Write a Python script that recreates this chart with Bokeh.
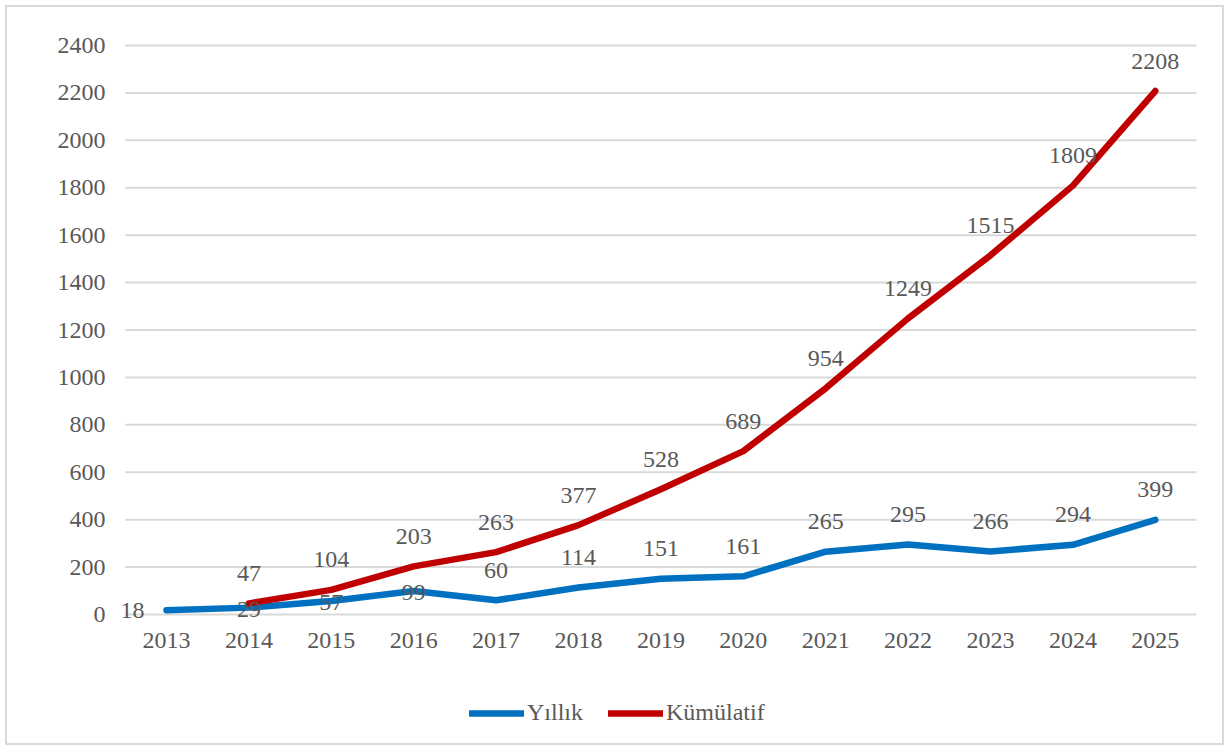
from bokeh.plotting import figure
from bokeh.models import (ColumnDataSource, Legend, LegendItem, Range1d, FixedTicker)
from bokeh.core.properties import value
from bokeh.embed import file_html
from bokeh.resources import INLINE

years = ["2013", "2014", "2015", "2016", "2017", "2018", "2019",
         "2020", "2021", "2022", "2023", "2024", "2025"]
yillik = [18, 29, 57, 99, 60, 114, 151, 161, 265, 295, 266, 294, 399]
kum_years = ["2014", "2015", "2016", "2017", "2018", "2019",
             "2020", "2021", "2022", "2023", "2024", "2025"]
kumulatif = [47, 104, 203, 263, 377, 528, 689, 954, 1249, 1515, 1809, 2208]
y_ticks = list(range(0, 2401, 200))

# label placement (style only)
blue_dx = [-34, 0, 0, 0] + [0] * 9
blue_dy = [0, 2, 2, 1] + [-30] * 9

FONT = "Liberation Serif"
TXT = "#595959"
BLUE = "#0070C0"
RED = "#C00000"
FS = "24px"

# layout geometry (pixels, in figure coordinates)
W, H = 1219, 740
F_LEFT, F_RIGHT, F_TOP, F_BOTTOM = 107, 1206, 3, 737
ZERO_Y, TOP_Y = 607, 38          # pixel rows of value 0 and of the top tick
CAT_W = 82.4                     # category width in pixels
FIRST_X = 159                    # pixel column of the first category

xi = {y: i for i, y in enumerate(years)}
bx = [xi[y] for y in years]
rx = [xi[y] for y in kum_years]

ppu = (ZERO_Y - TOP_Y) / y_ticks[-1]
y0 = -(F_BOTTOM - ZERO_Y) / ppu
y1 = y_ticks[-1] + (TOP_Y - F_TOP) / ppu
x0 = -(FIRST_X - F_LEFT) / CAT_W
x1 = x0 + (F_RIGHT - F_LEFT) / CAT_W

p = figure(width=W, height=H, x_range=Range1d(x0, x1), y_range=Range1d(y0, y1),
           output_backend="svg", toolbar_location=None,
           min_border_left=F_LEFT, min_border_right=W - F_RIGHT,
           min_border_top=F_TOP, min_border_bottom=H - F_BOTTOM)
p.styles = {"border": "2px solid #d9d9d9", "margin": "5px 0 0 5px"}
p.outline_line_color = None
p.background_fill_color = "white"
p.border_fill_color = "white"
p.xgrid.grid_line_color = None
p.ygrid.grid_line_color = None

# horizontal gridlines spanning the category band only
p.segment(x0=[-0.5] * len(y_ticks), x1=[len(years) - 0.5] * len(y_ticks),
          y0=y_ticks, y1=y_ticks, line_color="#d9d9d9", line_width=2)

b_src = ColumnDataSource(dict(x=bx, y=yillik, t=[str(v) for v in yillik],
                              dx=blue_dx, dy=blue_dy))
r_src = ColumnDataSource(dict(x=rx, y=kumulatif, t=[str(v) for v in kumulatif]))

rb = p.line("x", "y", source=b_src, line_color=BLUE, line_width=6.5, line_cap="round",
            line_join="round")
rr = p.line("x", "y", source=r_src, line_color=RED, line_width=6.5, line_cap="round",
            line_join="round")

p.text("x", "y", text="t", source=b_src, x_offset="dx", y_offset="dy",
       text_font=value(FONT), text_font_size=FS, text_color=TXT,
       text_align="center", text_baseline="middle")
p.text("x", "y", text="t", source=r_src, y_offset=-30,
       text_font=value(FONT), text_font_size=FS, text_color=TXT,
       text_align="center", text_baseline="middle")

p.xaxis.ticker = FixedTicker(ticks=bx)
p.xaxis.major_label_overrides = {i: y for i, y in enumerate(years)}
p.xaxis.fixed_location = 0
p.yaxis.ticker = FixedTicker(ticks=y_ticks)

for ax in (p.xaxis[0], p.yaxis[0]):
    ax.axis_line_color = None
    ax.major_tick_line_color = None
    ax.minor_tick_line_color = None
    ax.major_label_text_font = FONT
    ax.major_label_text_font_size = FS
    ax.major_label_text_color = TXT
p.yaxis.major_label_standoff = 3
p.xaxis.major_label_standoff = 12

legend = Legend(items=[LegendItem(label="Yıllık", renderers=[rb]),
                       LegendItem(label="Kümülatif", renderers=[rr])],
                orientation="horizontal", location=(355, 18),
                glyph_width=55, glyph_height=20, label_height=20,
                label_standoff=3, spacing=25, padding=0, margin=0,
                border_line_alpha=0, background_fill_alpha=0,
                label_text_font=FONT, label_text_font_size=FS,
                label_text_color=TXT)
p.add_layout(legend, "center")

open("out.html", "w").write(file_html(p, INLINE))
